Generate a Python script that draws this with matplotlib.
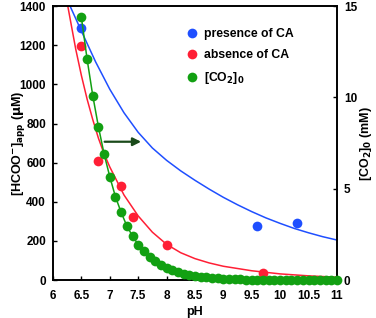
import matplotlib
matplotlib.use('Agg')
from matplotlib import pyplot as plt
from matplotlib.lines import Line2D

plt.rcParams['font.family'] = ['Liberation Sans', 'DejaVu Sans']
plt.rcParams['font.weight'] = 'bold'
plt.rcParams['mathtext.default'] = 'bf'

# measured formate, presence / absence of CA (uM)
ph_with = [6.5, 9.6, 10.3]
hcoo_with = [1290, 278, 293]
ph_without = [6.5, 6.8, 7.2, 7.4, 8.0, 9.7]
hcoo_without = [1195, 608, 480, 322, 180, 38]

# fitted curves
fit_ph_blue = [6.3, 6.5, 6.75, 7.0, 7.25, 7.5, 7.75, 8.0, 8.25, 8.5, 8.75, 9.0, 9.25,
               9.5, 9.75, 10.0, 10.25, 10.5, 10.75, 11.0]
fit_blue = [1400, 1272, 1115, 975, 855, 755, 675, 612, 558, 510, 465, 423, 385,
            350, 318, 290, 264, 242, 222, 205]
fit_ph_red = [6.26, 6.4, 6.5, 6.6, 6.7, 6.8, 6.9, 7.0, 7.25, 7.5, 7.75, 8.0, 8.25,
              8.5, 8.75, 9.0, 9.5, 10.0, 10.5, 11.0]
fit_red = [1400, 1180, 1045, 925, 820, 725, 645, 578, 435, 328, 245, 183, 140,
           110, 88, 71, 48, 32, 22, 15]

# equilibrium CO2 (mM)
ph_co2 = [6.5, 6.6, 6.7, 6.8, 6.9, 7.0, 7.1, 7.2, 7.3, 7.4, 7.5, 7.6, 7.7, 7.8, 7.9,
          8.0, 8.1, 8.2, 8.3, 8.4, 8.5, 8.6, 8.7, 8.8, 8.9, 9.0, 9.1, 9.2, 9.3, 9.4,
          9.5, 9.6, 9.7, 9.8, 9.9, 10.0, 10.1, 10.2, 10.3, 10.4, 10.5, 10.6, 10.7,
          10.8, 10.9, 11.0]
co2 = [14.38, 12.1, 10.1, 8.39, 6.9, 5.66, 4.56, 3.71, 2.97, 2.41, 1.95, 1.58, 1.27,
       1.03, 0.83, 0.67, 0.54, 0.44, 0.35, 0.28, 0.23, 0.18, 0.15, 0.12, 0.1, 0.08,
       0.06, 0.05, 0.04, 0.03, 0.03, 0.02, 0.02, 0.01, 0.01, 0.01, 0.01, 0.0, 0.0,
       0.0, 0.0, 0.0, 0.0, 0.0, 0.0, 0.0]

blue = '#1f4fff'
red = '#ff1f35'
green = '#12a012'

fig = plt.figure(figsize=(3.76, 3.18), dpi=100)
ax = fig.add_axes([0.141, 0.119, 0.755, 0.862])
ax2 = ax.twinx()

ax.plot(fit_ph_blue, fit_blue, color=blue, lw=1.1)
ax.plot(fit_ph_red, fit_red, color=red, lw=1.1)
ax.plot(ph_with, hcoo_with, 'o', color=blue, ms=7, mec='none')
ax.plot(ph_without, hcoo_without, 'o', color=red, ms=7, mec='none')
ax2.plot(ph_co2, co2, '-o', color=green, lw=1.1, ms=7, mec='none', clip_on=False, zorder=5)

ax.annotate('', xy=(7.6, 707), xytext=(6.86, 707),
            arrowprops=dict(arrowstyle='-|>', color='#1a4a1a', lw=1.6, mutation_scale=12))

ax.set_xlim(6, 11)
ax.set_ylim(0, 1400)
ax2.set_ylim(0, 15)
ax.set_xticks([6, 6.5, 7, 7.5, 8, 8.5, 9, 9.5, 10, 10.5, 11])
ax.set_xticklabels(['6', '6.5', '7', '7.5', '8', '8.5', '9', '9.5', '10', '10.5', '11'])
ax.set_yticks(range(0, 1401, 200))
ax2.set_yticks([0, 5, 10, 15])

for a in (ax, ax2):
    a.tick_params(direction='in', length=3, width=1, labelsize=8.5, pad=5)
    for s in a.spines.values():
        s.set_linewidth(1.2)
ax.tick_params(axis='x', pad=7)

ax.set_xlabel('pH', fontsize=9, fontweight='bold', labelpad=3)
ax.set_ylabel('[HCOO$^{-}$]$_{app}$ ($\\mu$M)', fontsize=9, fontweight='bold')
ax2.set_ylabel('[CO$_{2}$]$_{0}$ (mM)', fontsize=9, fontweight='bold')
ax.yaxis.set_label_coords(-0.09, 0.5)
ax2.yaxis.set_label_coords(1.075, 0.5)

handles = [Line2D([], [], ls='none', marker='o', color=blue, ms=7, mec='none'),
           Line2D([], [], ls='none', marker='o', color=red, ms=7, mec='none'),
           Line2D([], [], ls='none', marker='o', color=green, ms=7, mec='none')]
ax.legend(handles, ['presence of CA', 'absence of CA', '[CO$_{2}$]$_{0}$'],
          loc='upper left', bbox_to_anchor=(0.43, 0.96), frameon=False,
          fontsize=8.8, handletextpad=0.5, handlelength=1.0, labelspacing=0.75)

fig.savefig('out.png', dpi=100)
